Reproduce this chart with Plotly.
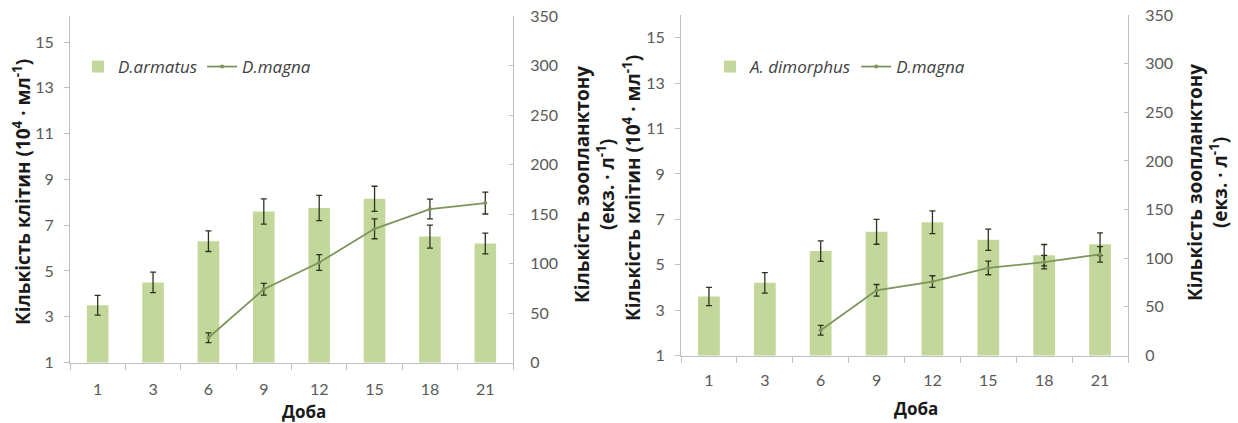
import plotly.graph_objects as go

days = ["1", "3", "6", "9", "12", "15", "18", "21"]
line_days = ["6", "9", "12", "15", "18", "21"]

# Left chart: D.armatus cells (10^4/ml) and D.magna (ind./l)
armatus = [3.5, 4.5, 6.3, 7.6, 7.75, 8.15, 6.5, 6.2]
armatus_err = [0.43, 0.45, 0.45, 0.55, 0.55, 0.55, 0.5, 0.45]
magna_left = [25, 74, 101, 135, 155, 161]
magna_left_err = [5, 6, 8, 10, 10, 11]

# Right chart: A. dimorphus cells and D.magna
dimorphus = [3.6, 4.2, 5.6, 6.45, 6.87, 6.1, 5.42, 5.9]
dimorphus_err = [0.4, 0.45, 0.45, 0.55, 0.5, 0.47, 0.47, 0.5]
magna_right = [26, 67, 76, 90, 96, 104]
magna_right_err = [5, 6, 6, 7, 7, 8]

left_ticks = [1, 3, 5, 7, 9, 11, 13, 15]
right_ticks = [0, 50, 100, 150, 200, 250, 300, 350]

BAR = "#c4d79b"
LINE = "#7b955a"
ERR = "#2a3320"
AX = "#bfbfbf"
TICKF = dict(family="Lato", size=16, color="#595959")
W, H = 1238, 423

fig = go.Figure()

def add_panel(bars, bars_err, bar_name, line, line_err, xa, ya, ya2, legend):
    fig.add_trace(go.Bar(
        x=days, y=bars, name=bar_name, marker=dict(color=BAR, line=dict(width=0)),
        width=0.39, error_y=dict(type="data", array=bars_err, color=ERR, thickness=1.3, width=3),
        xaxis=xa, yaxis=ya, legend=legend))
    fig.add_trace(go.Scatter(
        x=line_days, y=line, name="D.magna", mode="lines+markers",
        line=dict(color=LINE, width=1.8), marker=dict(color=LINE, size=4),
        error_y=dict(type="data", array=line_err, color=ERR, thickness=1.3, width=3),
        xaxis=xa, yaxis=ya2, legend=legend))

add_panel(armatus, armatus_err, "D.armatus", magna_left, magna_left_err, "x", "y", "y2", "legend")
add_panel(dimorphus, dimorphus_err, "A. dimorphus", magna_right, magna_right_err, "x2", "y3", "y4", "legend2")

def xaxis(dom, anchor, standoff):
    return dict(domain=dom, anchor=anchor, type="category", categoryorder="array",
                categoryarray=days, showline=True, linecolor=AX, linewidth=1,
                ticks="outside", tickson="boundaries", ticklen=6, tickcolor=AX,
                tickfont=TICKF, ticklabelstandoff=standoff, showgrid=False, zeroline=False,
                automargin=False)

def yleft(dom, anchor, rng):
    return dict(domain=dom, anchor=anchor, range=rng, tickvals=left_ticks,
                showline=True, linecolor=AX, linewidth=1, ticks="outside", ticklen=5,
                tickcolor=AX, tickfont=TICKF, ticklabelstandoff=7, showgrid=False,
                zeroline=False, automargin=False)

def yright(over, anchor):
    return dict(overlaying=over, anchor=anchor, side="right", range=[0, 350],
                tickvals=right_ticks, showline=True, linecolor=AX, linewidth=1,
                ticks="inside", ticklen=4, tickcolor=AX, tickfont=TICKF,
                ticklabelstandoff=13, showgrid=False, zeroline=False, automargin=False)

d1 = [1 - 362.5 / H, 1 - 16 / H]
d2 = [1 - 355.5 / H, 1 - 15 / H]

legfont = dict(family="Open Sans", size=17, color="#404040", style="italic")

fig.update_layout(
    width=W, height=H, template="none",
    margin=dict(l=0, r=0, t=0, b=0),
    paper_bgcolor="white", plot_bgcolor="rgba(0,0,0,0)",
    xaxis=xaxis([70 / W, 513 / W], "y", 12),
    yaxis=yleft(d1, "x", [1, 16.14]),
    yaxis2=yright("y", "x"),
    xaxis2=xaxis([681 / W, 1128 / W], "y3", 10),
    yaxis3=yleft(d2, "x2", [1, 16.0]),
    yaxis4=yright("y3", "x2"),
    legend=dict(x=78 / W, y=1 - 67 / H, xanchor="left", yanchor="middle",
                orientation="h", font=legfont, bgcolor="rgba(0,0,0,0)", itemwidth=30),
    legend2=dict(x=710 / W, y=1 - 67 / H, xanchor="left", yanchor="middle",
                 orientation="h", font=legfont, bgcolor="rgba(0,0,0,0)", itemwidth=30),
    showlegend=True,
)

titlef = dict(family="Open Sans", size=19, color="#1a1a1a", weight="bold")
doba_f = dict(family="Open Sans", size=17, color="#1a1a1a", weight="bold")
ann = [
    dict(text="Кількість клітин (10<sup>4</sup> · мл<sup>-1</sup>)", x=22, y=192, textangle=-90, f=titlef),
    dict(text="Кількість зоопланктону<br>(екз. · л<sup>-1</sup>)", x=594, y=185, textangle=-90, f=titlef),
    dict(text="Доба", x=304, y=411, textangle=0, f=doba_f),
    dict(text="Кількість клітин (10<sup>4</sup> · мл<sup>-1</sup>)", x=632, y=188, textangle=-90, f=titlef),
    dict(text="Кількість зоопланктону<br>(екз. · л<sup>-1</sup>)", x=1207, y=183, textangle=-90, f=titlef),
    dict(text="Доба", x=916, y=408, textangle=0, f=doba_f),
]
for a in ann:
    fig.add_annotation(text=a["text"], x=a["x"] / W, y=1 - a["y"] / H, xref="paper", yref="paper",
                       showarrow=False, textangle=a["textangle"], font=a["f"],
                       xanchor="center", yanchor="middle")

fig.write_html("out.html")
